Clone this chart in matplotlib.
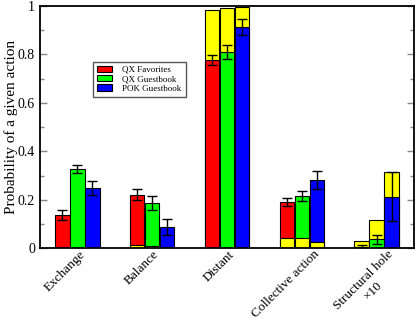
import matplotlib.pyplot as plt
import numpy as np

plt.rcParams['font.family'] = ['Liberation Serif', 'DejaVu Serif']

categories = ['Exchange', 'Balance', 'Distant', 'Collective action', 'Structural hole\n×10']
series = ['QX Favorites', 'QX Guestbook', 'POK Guestbook']
colors = ['#ff0000', '#00ff00', '#0000ff']

# main value of each bar (top of coloured part)
qx_fav = [0.137, 0.222, 0.776, 0.192, 0.007]
qx_gb = [0.327, 0.187, 0.810, 0.216, 0.037]
pok_gb = [0.249, 0.088, 0.912, 0.283, 0.213]

# error bar half-widths
qx_fav_err = [0.020, 0.021, 0.022, 0.016, 0.008]
qx_gb_err = [0.017, 0.030, 0.029, 0.022, 0.019]
pok_gb_err = [0.029, 0.034, 0.033, 0.038, 0.100]

# yellow overlay values
qx_fav_y = [0.0, 0.014, 0.984, 0.044, 0.029]
qx_gb_y = [0.0, 0.008, 0.990, 0.044, 0.117]
pok_gb_y = [0.0, 0.004, 0.995, 0.026, 0.313]

vals = [qx_fav, qx_gb, pok_gb]
errs = [qx_fav_err, qx_gb_err, pok_gb_err]
yel = [qx_fav_y, qx_gb_y, pok_gb_y]

fig = plt.figure(figsize=(4.15, 3.23), dpi=100)
ax = fig.add_axes([0.096, 0.231, 0.902, 0.751])

x = np.arange(1, len(categories) + 1)
w = 0.195
for i in range(3):
    xs = x + (i - 1) * 0.2
    for j in range(len(x)):
        v, yv = vals[i][j], yel[i][j]
        # taller bar drawn first, shorter one on top
        if yv > v:
            ax.bar(xs[j], yv, w, color='#ffff00', edgecolor='black', lw=0.8, zorder=1)
            ax.bar(xs[j], v, w, color=colors[i], edgecolor='black', lw=0.8, zorder=2)
        else:
            ax.bar(xs[j], v, w, color=colors[i], edgecolor='black', lw=0.8, zorder=1)
            if yv > 0:
                ax.bar(xs[j], yv, w, color='#ffff00', edgecolor='black', lw=0.8, zorder=2)
    ax.errorbar(xs, vals[i], yerr=errs[i], fmt='none', ecolor='black',
                elinewidth=1, capsize=3.5, capthick=1, zorder=3)

handles = [plt.Rectangle((0, 0), 1, 1, fc=c, ec='black', lw=0.8) for c in colors]
leg = ax.legend(handles, series, loc='upper left', bbox_to_anchor=(0.141, 0.77),
                fontsize=6.5, fancybox=False, framealpha=1, edgecolor='#555555',
                handlelength=1.7, handleheight=0.7, borderpad=0.45, labelspacing=0.12,
                handletextpad=1.15, borderaxespad=0)
leg.get_frame().set_linewidth(1.0)

ax.set_xlim(0.5, 5.5)
ax.set_ylim(0, 1)
ax.set_yticks([0, 0.2, 0.4, 0.6, 0.8, 1.0])
ax.set_yticklabels(['0', '0.2', '0.4', '0.6', '0.8', '1'])
ax.set_yticks(np.arange(0.1, 1.0, 0.2), minor=True)
ax.tick_params(axis='y', which='both', direction='in', right=True, color='#888888',
               labelsize=10)
ax.tick_params(axis='y', which='major', length=5, width=1)
ax.tick_params(axis='y', which='minor', length=3, width=1)
ax.set_xticks(x + np.array([0.03, 0.01, 0.02, 0.15, 0.14]))
ax.set_xticklabels(categories, rotation=45, ha='right', rotation_mode='anchor',
                   fontsize=9.5, multialignment='center')
ax.tick_params(axis='x', length=0, pad=0)
ax.set_ylabel('Probability of a given action', fontsize=11, labelpad=0)
for s in ax.spines.values():
    s.set_linewidth(1.3)

fig.savefig('out.png', dpi=100)
